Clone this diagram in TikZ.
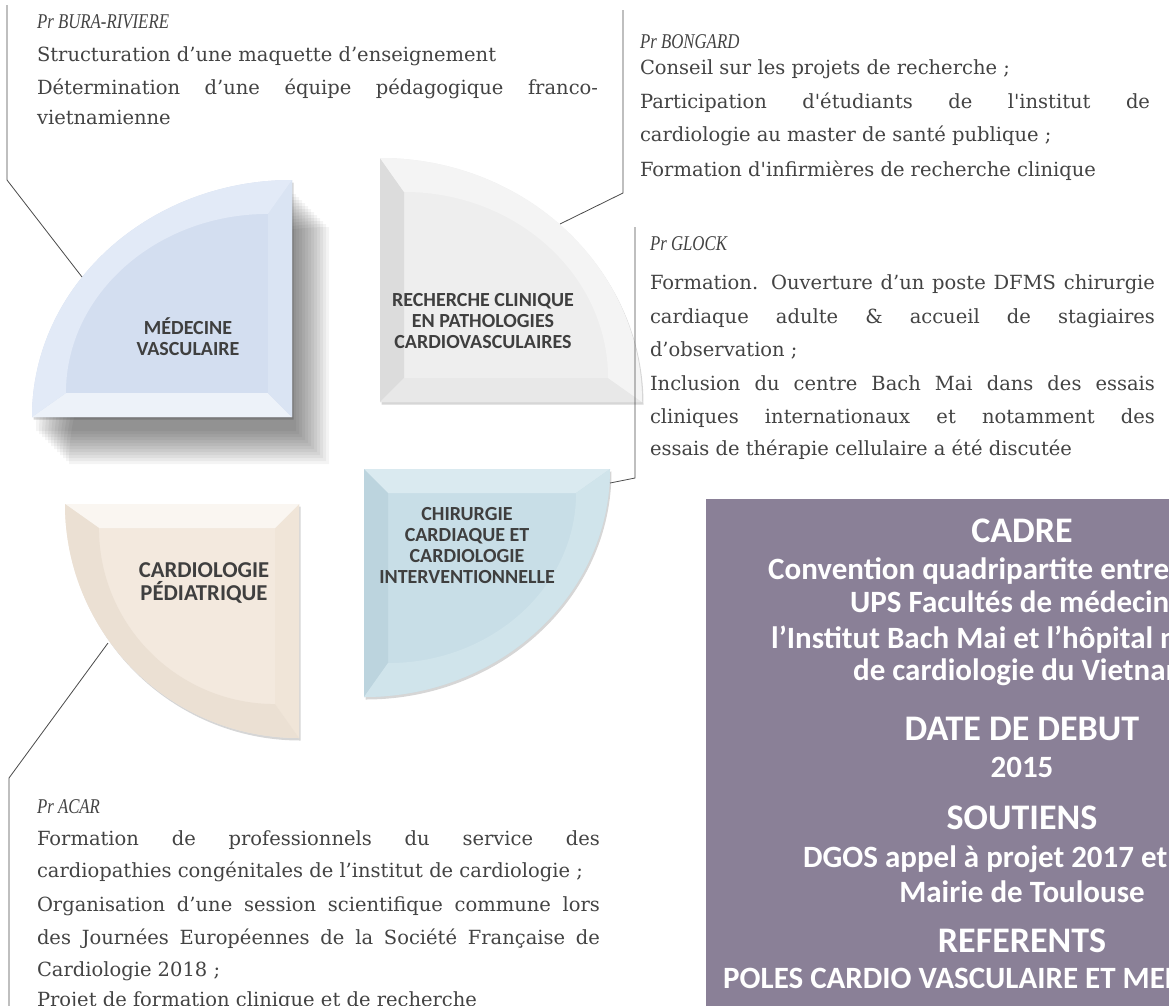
\documentclass[tikz,border=0pt]{standalone}
\usepackage{fontspec}
\usepackage{graphicx}
\setmainfont{DejaVu Serif}[Ligatures=TeXOff]
\newfontfamily\carlito{Carlito}[Ligatures=TeXOff]
\newfontfamily\profitalic{Liberation Serif}[Ligatures=TeXOff]
\usetikzlibrary{calc}

\definecolor{txt}{HTML}{434343}
\definecolor{lbl}{HTML}{3F3F3F}
\definecolor{conn}{HTML}{4A4A4A}
\definecolor{boxpurple}{RGB}{138,128,151}
% blue segment (medecine)
\definecolor{medbase}{HTML}{D3DEF0}
\definecolor{medarc}{HTML}{E2EAF7}
\definecolor{medfa}{HTML}{EDF2F9}
\definecolor{medfb}{HTML}{DAE4F3}
% grey segment (recherche)
\definecolor{recbase}{HTML}{EEEEEE}
\definecolor{recarc}{HTML}{F4F4F4}
\definecolor{recfa}{HTML}{DCDCDC}
\definecolor{recfb}{HTML}{E8E8E8}
% beige segment (cardiologie pediatrique)
\definecolor{cardbase}{HTML}{F3E9DE}
\definecolor{cardarc}{HTML}{EBE0D3}
\definecolor{cardfa}{HTML}{F0E5D8}
\definecolor{cardfb}{HTML}{FAF6F1}
% light blue segment (chirurgie)
\definecolor{chirbase}{HTML}{C8DEE7}
\definecolor{chirarc}{HTML}{D0E4EB}
\definecolor{chirfa}{HTML}{DAEAF0}
\definecolor{chirfb}{HTML}{BCD4DE}

% #1 cx, #2 cy, #3 rx, #4 ry, #5 a1, #6 a2, #7 sx, #8 sy, #9 colour prefix
\newcommand\bevelseg[9]{%
  \begingroup
  \def\dd{24}%
  \pgfmathsetmacro\icx{#1+#7*\dd}%
  \pgfmathsetmacro\icy{#2+#8*\dd}%
  \pgfmathsetmacro\irx{#3-2.414*\dd}%
  \pgfmathsetmacro\iry{#4-2.414*\dd}%
  \pgfmathsetmacro\pax{#1+#3*cos(#5)}\pgfmathsetmacro\pay{#2+#4*sin(#5)}%
  \pgfmathsetmacro\pbx{#1+#3*cos(#6)}\pgfmathsetmacro\pby{#2+#4*sin(#6)}%
  \pgfmathsetmacro\qax{\icx+\irx*cos(#5)}\pgfmathsetmacro\qay{\icy+\iry*sin(#5)}%
  \pgfmathsetmacro\qbx{\icx+\irx*cos(#6)}\pgfmathsetmacro\qby{\icy+\iry*sin(#6)}%
  \fill[black,opacity=0.16] ($(#1,#2)+(1.5,2.5)$) -- ++(\pax-#1,\pay-#2) arc[start angle=#5, end angle=#6, x radius=#3, y radius=#4] -- cycle;
  \fill[#9base] (#1,#2) -- (\pax,\pay) arc[start angle=#5, end angle=#6, x radius=#3, y radius=#4] -- cycle;
  \fill[#9fa] (#1,#2) -- (\pax,\pay) -- (\qax,\qay) -- (\icx,\icy) -- cycle;
  \fill[#9fb] (#1,#2) -- (\pbx,\pby) -- (\qbx,\qby) -- (\icx,\icy) -- cycle;
  \fill[#9arc] (\pax,\pay) arc[start angle=#5, end angle=#6, x radius=#3, y radius=#4]
     -- (\qbx,\qby) arc[start angle=#6, end angle=#5, x radius=\irx, y radius=\iry] -- cycle;
  \endgroup}

\tikzset{
  line/.style={anchor=base west, inner sep=0pt, outer sep=0pt, text=txt, font=\fontsize{19.5bp}{23bp}\selectfont},
  prof/.style={anchor=base west, inner sep=0pt, outer sep=0pt, text=txt, font=\profitalic\fontsize{21bp}{24bp}\selectfont\itshape},
  seglabel/.style={align=center, inner sep=0pt, text=lbl, font=\carlito\bfseries\fontsize{20bp}{21bp}\selectfont},
  boxhead/.style={anchor=base, inner sep=0pt, text=white, font=\carlito\bfseries\fontsize{36bp}{40bp}\selectfont},
  boxline/.style={anchor=base, inner sep=0pt, text=white, font=\carlito\bfseries\fontsize{31bp}{34bp}\selectfont},
  boxlinew/.style={boxline, anchor=base west},
  connector/.style={draw=conn, line width=0.8bp}
}
\newcommand\jl[2]{\makebox[#1bp][s]{#2}}
\newcommand\pr[1]{\scalebox{0.8}[1]{#1}}

\begin{document}
\begin{tikzpicture}[x=1bp, y=-1bp]
\useasboundingbox (0,0) rectangle (1169,1006);
\clip (0,0) rectangle (1169,1006);
\fill[white] (0,0) rectangle (1169,1006);

% ---------- soft drop shadow of the blue segment ----------
\begin{scope}[shift={(20,30)}]
  \foreach \i in {-16,-13,...,17}{
    \fill[black, opacity=0.042]
      (292+\i,417+\i) -- ++(-260,0) arc[start angle=180, end angle=270, x radius=260, y radius=237] -- cycle;
  }
\end{scope}

% ---------- the four segments ----------
\bevelseg{292}{417}{260}{237}{180}{270}{-1}{-1}{med}
\bevelseg{380}{402}{262}{244}{270}{360}{1}{-1}{rec}
\bevelseg{299}{504}{234}{234}{90}{180}{-1}{1}{card}
\bevelseg{364}{469}{246}{228}{0}{90}{1}{1}{chir}

\node[seglabel] (med) at (188,337) {MÉDECINE\\VASCULAIRE};
\node[seglabel] (rec) at (483,321) {RECHERCHE CLINIQUE\\EN PATHOLOGIES\\CARDIOVASCULAIRES};
\node[seglabel, font=\carlito\bfseries\fontsize{22.7bp}{23.5bp}\selectfont] (card) at (204,583) {CARDIOLOGIE\\PÉDIATRIQUE};
\node[seglabel] (chir) at (467,546) {CHIRURGIE\\CARDIAQUE ET\\CARDIOLOGIE\\INTERVENTIONNELLE};

% ---------- connectors ----------
\coordinate (bura-end) at (82,277);
\coordinate (bura-knee) at (7,180);
\coordinate (bura-top) at (7,5);
\draw[connector] (bura-end) -- (bura-knee) -- (bura-top);

\coordinate (bong-end) at (560,224);
\coordinate (bong-knee) at (623,193);
\coordinate (bong-top) at (623,10);
\draw[connector] (bong-end) -- (bong-knee) -- (bong-top);

\coordinate (glock-end) at (610,483);
\coordinate (glock-knee) at (635,478);
\coordinate (glock-top) at (635,227);
\draw[connector] (glock-end) -- (glock-knee) -- (glock-top);

\coordinate (acar-end) at (108,643);
\coordinate (acar-knee) at (9,778);
\coordinate (acar-bot) at (9,1010);
\draw[connector] (acar-end) -- (acar-knee) -- (acar-bot);

% ---------- Pr BURA-RIVIERE ----------
\node[prof] (bura-h) at (37,28) {\pr{Pr BURA-RIVIERE}};
\node[line] (bura-1) at (37,61) {Structuration d’une maquette d’enseignement};
\node[line] (bura-2) at (37,94) {\jl{561}{Détermination d’une équipe pédagogique franco-}};
\node[line] (bura-3) at (37,124) {vietnamienne};

% ---------- Pr BONGARD ----------
\node[prof] (bong-h) at (640,48) {\pr{Pr BONGARD}};
\node[line] (bong-1) at (640,74) {Conseil sur les projets de recherche ;};
\node[line] (bong-2) at (640,108) {\jl{510}{Participation d'étudiants de l'institut de}};
\node[line] (bong-3) at (640,141) {cardiologie au master de santé publique ;};
\node[line] (bong-4) at (640,176) {Formation d'infirmières de recherche clinique};

% ---------- Pr GLOCK ----------
\node[prof] (glock-h) at (650,250) {\pr{Pr GLOCK}};
\node[line] (glock-1) at (650,289) {\jl{505}{Formation. Ouverture d’un poste DFMS chirurgie}};
\node[line] (glock-2) at (650,323) {\jl{505}{cardiaque adulte \& accueil de stagiaires}};
\node[line] (glock-3) at (650,356) {d’observation ;};
\node[line] (glock-4) at (650,390) {\jl{505}{Inclusion du centre Bach Mai dans des essais}};
\node[line] (glock-5) at (650,423) {\jl{505}{cliniques internationaux et notamment des}};
\node[line] (glock-6) at (650,455) {essais de thérapie cellulaire a été discutée};

% ---------- Pr ACAR ----------
\node[prof] (acar-h) at (37,813) {\pr{Pr ACAR}};
\node[line] (acar-1) at (37,845) {\jl{563}{Formation de professionnels du service des}};
\node[line] (acar-2) at (37,877) {cardiopathies congénitales de l’institut de cardiologie ;};
\node[line] (acar-3) at (37,911) {\jl{563}{Organisation d’une session scientifique commune lors}};
\node[line] (acar-4) at (37,944) {\jl{563}{des Journées Européennes de la Société Française de}};
\node[line] (acar-5) at (37,976) {Cardiologie 2018 ;};
\node[line] (acar-6) at (37,1006) {Projet de formation clinique et de recherche};

% ---------- CADRE box ----------
\fill[boxpurple] (706,499) rectangle (1340,1030);
\node[boxhead] (cadre) at (1022,542) {CADRE};
\node[boxlinew] (cadre-1) at (768,579) {Convention quadripartite entre le CHU,};
\node[boxlinew] (cadre-2) at (850,612) {UPS Facultés de médecine,};
\node[boxlinew] (cadre-3) at (771,648) {l’Institut Bach Mai et l’hôpital national};
\node[boxline] (cadre-4) at (1022,680) {de cardiologie du Vietnam};
\node[boxhead] (debut) at (1022,740) {DATE DE DEBUT};
\node[boxline] (debut-1) at (1022,777) {2015};
\node[boxhead] (sout) at (1022,829) {SOUTIENS};
\node[boxlinew] (sout-1) at (803,867) {DGOS appel à projet 2017 et};
\node[boxline] (sout-2) at (1022,902) {Mairie de Toulouse};
\node[boxhead] (ref) at (1022,952) {REFERENTS};
\node[boxlinew] (ref-1) at (723,988) {POLES CARDIO VASCULAIRE ET MEDECINE};
\end{tikzpicture}
\end{document}
